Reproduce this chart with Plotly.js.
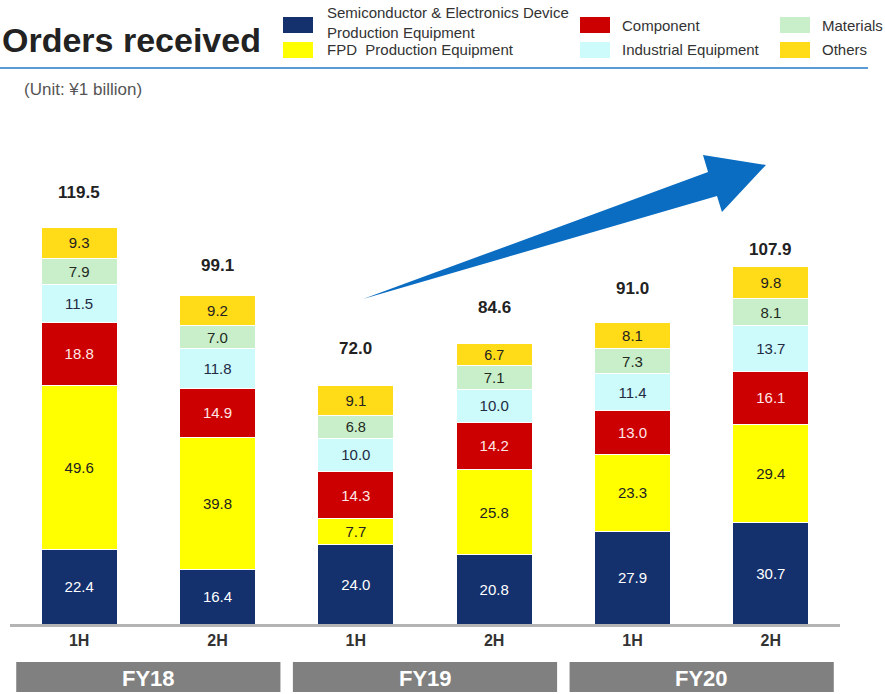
<!DOCTYPE html>
<html>
<head>
<meta charset="utf-8">
<script src="https://cdn.plot.ly/plotly-3.0.1.min.js"></script>
<style>html,body{margin:0;padding:0;background:#fff;}#chart{width:885px;height:694px;}</style>
</head>
<body>
<div id="chart"></div>
<script>
// ---- data ----
var halves = ["1H", "2H", "1H", "2H", "1H", "2H"];
var fiscalYears = ["FY18", "FY19", "FY20"];
var semiconductor = [22.4, 16.4, 24.0, 20.8, 27.9, 30.7];
var fpd = [49.6, 39.8, 7.7, 25.8, 23.3, 29.4];
var component = [18.8, 14.9, 14.3, 14.2, 13.0, 16.1];
var industrial = [11.5, 11.8, 10.0, 10.0, 11.4, 13.7];
var materials = [7.9, 7.0, 6.8, 7.1, 7.3, 8.1];
var others = [9.3, 9.2, 9.1, 6.7, 8.1, 9.8];
var totals = [119.5, 99.1, 72.0, 84.6, 91.0, 107.9];
var seriesNames = ["Semiconductor & Electronics Device Production Equipment", "FPD Production Equipment", "Component", "Industrial Equipment", "Materials", "Others"];

// ---- styles ----
var colors = ["#15316d", "#ffff00", "#cc0000", "#cdfafa", "#c9efca", "#ffdc17"];
var textColors = ["#ffffff", "#222222", "#ffe6e6", "#222a44", "#222a22", "#222222"];
var totalShift = [35, 30, 37, 36, 34, 16];
var FONT = "Liberation Sans, Arial, sans-serif";

var W = 885, H = 694, ML = 10, MR = 45, MT = 104, MB = 70;
var PW = W - ML - MR, PH = H - MT - MB;
function px(x) { return (x - ML) / PW; }
function py(y) { return (H - MB - y) / PH; }

var xs = halves.map(function (_, i) { return i; });
var series = [semiconductor, fpd, component, industrial, materials, others];

var traces = series.map(function (vals, k) {
  return {
    type: "bar",
    x: xs,
    y: vals,
    name: seriesNames[k],
    width: 0.55,
    marker: { color: colors[k], line: { color: "#ffffff", width: 1 } },
    text: vals.map(function (v) { return v.toFixed(1); }),
    textposition: "inside",
    insidetextanchor: "middle",
    textangle: 0,
    insidetextfont: { family: FONT, size: 15, color: textColors[k] },
    hoverinfo: "name+y",
    showlegend: false,
    cliponaxis: false
  };
});

var annotations = [];
totals.forEach(function (t, i) {
  annotations.push({
    x: i, y: t, xref: "x", yref: "y",
    text: "<b>" + t.toFixed(1) + "</b>",
    showarrow: false, yanchor: "middle", yshift: totalShift[i],
    font: { family: FONT, size: 17, color: "#222222" }
  });
});

var shapes = [];
// FY boxes
fiscalYears.forEach(function (fy, j) {
  var c = 2 * j + 0.5;
  shapes.push({
    type: "rect", xref: "x", yref: "paper",
    x0: c - 0.955, x1: c + 0.955, y0: py(692), y1: py(662),
    fillcolor: "#808080", line: { width: 0 }
  });
  annotations.push({
    x: c, y: py(678), xref: "x", yref: "paper",
    text: "<b>" + fy + "</b>", showarrow: false, yanchor: "middle",
    font: { family: FONT, size: 22, color: "#ffffff" }
  });
});

// header rule
shapes.push({
  type: "line", xref: "paper", yref: "paper",
  x0: px(0), x1: px(868), y0: py(68), y1: py(68),
  line: { color: "#5b9bd5", width: 2 }
});

// trend arrow
var arrowPts = [[363, 299], [708, 172], [703, 155], [766, 165], [722, 212], [717, 196]];
var path = arrowPts.map(function (p, i) {
  return (i === 0 ? "M " : "L ") + px(p[0]).toFixed(4) + " " + py(p[1]).toFixed(4);
}).join(" ") + " Z";
shapes.push({
  type: "path", xref: "paper", yref: "paper", path: path,
  fillcolor: "#0a6dc2", line: { width: 0 }
});

// legend (manual)
var legendItems = [
  { k: 0, sx: 283, sy: 25, tx: 325, lines: ["Semiconductor & Electronics Device", "Production Equipment"], ty: [13, 32] },
  { k: 1, sx: 283, sy: 50, tx: 325, lines: ["FPD  Production Equipment"], ty: [50] },
  { k: 2, sx: 580, sy: 25, tx: 620, lines: ["Component"], ty: [25] },
  { k: 3, sx: 580, sy: 50, tx: 620, lines: ["Industrial Equipment"], ty: [50] },
  { k: 4, sx: 780, sy: 25, tx: 820, lines: ["Materials"], ty: [25] },
  { k: 5, sx: 780, sy: 50, tx: 820, lines: ["Others"], ty: [50] }
];
legendItems.forEach(function (it) {
  shapes.push({
    type: "rect", xref: "paper", yref: "paper",
    x0: px(it.sx), x1: px(it.sx + 30), y0: py(it.sy + 8), y1: py(it.sy - 8),
    fillcolor: colors[it.k], line: { width: 0 }
  });
  it.lines.forEach(function (ln, m) {
    annotations.push({
      x: px(it.tx), y: py(it.ty[m]), xref: "paper", yref: "paper",
      text: ln, showarrow: false, xanchor: "left", yanchor: "middle",
      font: { family: FONT, size: 15, color: "#333333" }
    });
  });
});

// title & unit
annotations.push({
  x: px(0), y: py(40), xref: "paper", yref: "paper",
  text: "<b>Orders received</b>", showarrow: false, xanchor: "left", yanchor: "middle",
  font: { family: FONT, size: 34, color: "#222222" }
});
annotations.push({
  x: px(22), y: py(89), xref: "paper", yref: "paper",
  text: "(Unit: ¥1 billion)", showarrow: false, xanchor: "left", yanchor: "middle",
  font: { family: FONT, size: 17, color: "#555555" }
});

var layout = {
  width: W, height: H,
  margin: { l: ML, r: MR, t: MT, b: MB, pad: 0 },
  barmode: "stack",
  bargap: 0.45,
  paper_bgcolor: "#ffffff",
  plot_bgcolor: "#ffffff",
  xaxis: {
    range: [-0.5, 5.5],
    tickvals: xs,
    ticktext: halves.map(function (h) { return "<b>" + h + "</b>"; }),
    showgrid: false, zeroline: false,
    showline: true, linecolor: "#b4b4b4", linewidth: 3,
    ticks: "", ticklen: 0,
    tickfont: { family: FONT, size: 16, color: "#333333" },
    fixedrange: true
  },
  yaxis: {
    range: [0, PH / 3.318],
    visible: false, showgrid: false, zeroline: false, fixedrange: true
  },
  uniformtext: { mode: false },
  shapes: shapes,
  annotations: annotations,
  showlegend: false
};

Plotly.newPlot("chart", traces, layout, { displayModeBar: false, staticPlot: true });
</script>
</body>
</html>
